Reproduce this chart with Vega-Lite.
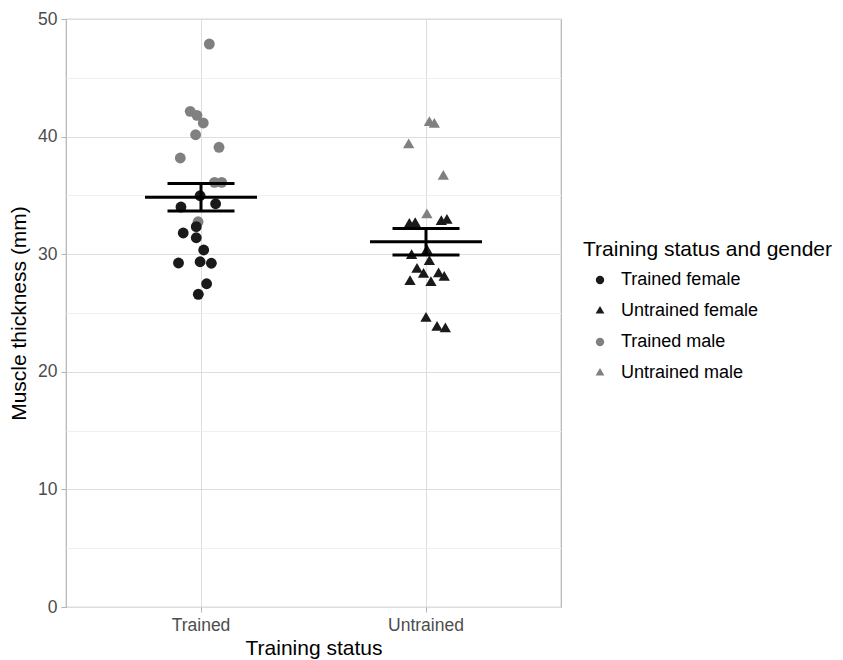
{
  "$schema": "https://vega.github.io/schema/vega-lite/v6.json",
  "width": 495,
  "height": 588,
  "autosize": {"type": "none"},
  "padding": {"left": 66, "top": 19, "right": 282, "bottom": 53},
  "config": {
    "font": "Liberation Sans",
    "view": {"stroke": "#b3b3b3", "strokeWidth": 1.2},
    "axis": {
      "labelFont": "Liberation Sans",
      "titleFont": "Liberation Sans",
      "labelFontSize": 17.5,
      "labelColor": "#4d4d4d",
      "titleFontSize": 21,
      "titleFontWeight": "normal",
      "titleColor": "#000000",
      "tickColor": "#b3b3b3",
      "tickSize": 5,
      "gridColor": "#dedede",
      "gridWidth": 1,
      "domain": false
    },
    "legend": {
      "titleFont": "Liberation Sans",
      "labelFont": "Liberation Sans",
      "titleFontSize": 21,
      "titleFontWeight": "normal",
      "titleColor": "#000000",
      "titleLimit": 400,
      "labelFontSize": 18,
      "labelColor": "#000000",
      "labelLimit": 300
    }
  },
  "data": {
    "values": [
      {"status": "Trained", "group": "Trained male", "jitter": 0.037, "mm": 47.87},
      {"status": "Trained", "group": "Trained male", "jitter": -0.048, "mm": 42.15},
      {"status": "Trained", "group": "Trained male", "jitter": -0.018, "mm": 41.81},
      {"status": "Trained", "group": "Trained male", "jitter": 0.010, "mm": 41.16},
      {"status": "Trained", "group": "Trained male", "jitter": -0.024, "mm": 40.16},
      {"status": "Trained", "group": "Trained male", "jitter": 0.080, "mm": 39.09},
      {"status": "Trained", "group": "Trained male", "jitter": -0.092, "mm": 38.18},
      {"status": "Trained", "group": "Trained male", "jitter": 0.060, "mm": 36.11},
      {"status": "Trained", "group": "Trained male", "jitter": 0.092, "mm": 36.11},
      {"status": "Trained", "group": "Trained male", "jitter": -0.013, "mm": 32.76},
      {"status": "Trained", "group": "Trained female", "jitter": -0.004, "mm": 34.97},
      {"status": "Trained", "group": "Trained female", "jitter": -0.089, "mm": 34.01},
      {"status": "Trained", "group": "Trained female", "jitter": 0.065, "mm": 34.29},
      {"status": "Trained", "group": "Trained female", "jitter": -0.021, "mm": 32.34},
      {"status": "Trained", "group": "Trained female", "jitter": -0.079, "mm": 31.80},
      {"status": "Trained", "group": "Trained female", "jitter": -0.021, "mm": 31.40},
      {"status": "Trained", "group": "Trained female", "jitter": 0.012, "mm": 30.36},
      {"status": "Trained", "group": "Trained female", "jitter": -0.100, "mm": 29.25},
      {"status": "Trained", "group": "Trained female", "jitter": -0.004, "mm": 29.36},
      {"status": "Trained", "group": "Trained female", "jitter": 0.046, "mm": 29.23},
      {"status": "Trained", "group": "Trained female", "jitter": 0.025, "mm": 27.49},
      {"status": "Trained", "group": "Trained female", "jitter": -0.012, "mm": 26.59},
      {"status": "Untrained", "group": "Untrained male", "jitter": 0.015, "mm": 41.18},
      {"status": "Untrained", "group": "Untrained male", "jitter": 0.037, "mm": 41.03},
      {"status": "Untrained", "group": "Untrained male", "jitter": -0.077, "mm": 39.28},
      {"status": "Untrained", "group": "Untrained male", "jitter": 0.077, "mm": 36.61},
      {"status": "Untrained", "group": "Untrained male", "jitter": 0.004, "mm": 33.33},
      {"status": "Untrained", "group": "Untrained female", "jitter": -0.074, "mm": 32.53},
      {"status": "Untrained", "group": "Untrained female", "jitter": -0.048, "mm": 32.59},
      {"status": "Untrained", "group": "Untrained female", "jitter": 0.068, "mm": 32.76},
      {"status": "Untrained", "group": "Untrained female", "jitter": 0.093, "mm": 32.87},
      {"status": "Untrained", "group": "Untrained female", "jitter": 0.004, "mm": 30.29},
      {"status": "Untrained", "group": "Untrained female", "jitter": -0.064, "mm": 29.87},
      {"status": "Untrained", "group": "Untrained female", "jitter": 0.015, "mm": 29.36},
      {"status": "Untrained", "group": "Untrained female", "jitter": -0.040, "mm": 28.70},
      {"status": "Untrained", "group": "Untrained female", "jitter": -0.011, "mm": 28.28},
      {"status": "Untrained", "group": "Untrained female", "jitter": 0.056, "mm": 28.31},
      {"status": "Untrained", "group": "Untrained female", "jitter": 0.081, "mm": 28.02},
      {"status": "Untrained", "group": "Untrained female", "jitter": -0.071, "mm": 27.66},
      {"status": "Untrained", "group": "Untrained female", "jitter": 0.022, "mm": 27.57},
      {"status": "Untrained", "group": "Untrained female", "jitter": 0.000, "mm": 24.54},
      {"status": "Untrained", "group": "Untrained female", "jitter": 0.049, "mm": 23.77},
      {"status": "Untrained", "group": "Untrained female", "jitter": 0.086, "mm": 23.63}
    ]
  },
  "resolve": {"axis": {"y": "independent"}},
  "layer": [
    {
      "mark": {"type": "point", "filled": true, "opacity": 1, "size": 118},
      "encoding": {
        "x": {
          "field": "status",
          "type": "nominal",
          "scale": {"paddingInner": 0, "paddingOuter": 0.1},
          "axis": {"title": "Training status", "labelAngle": 0, "grid": true, "labelPadding": 4, "titlePadding": 4}
        },
        "xOffset": {"field": "jitter", "type": "quantitative", "scale": {"domain": [-0.5, 0.5]}},
        "y": {
          "field": "mm",
          "type": "quantitative",
          "scale": {"domain": [0, 50], "nice": false, "zero": false},
          "axis": {"title": "Muscle thickness (mm)", "values": [0, 10, 20, 30, 40, 50], "grid": true, "labelPadding": 4, "titlePadding": 8}
        },
        "color": {
          "field": "group",
          "type": "nominal",
          "scale": {
            "domain": ["Trained female", "Untrained female", "Trained male", "Untrained male"],
            "range": ["#1a1a1a", "#1a1a1a", "#808080", "#808080"]
          },
          "legend": {
            "title": "Training status and gender",
            "orient": "none",
            "legendX": 517,
            "legendY": 220,
            "symbolSize": 70,
            "symbolOffset": 8,
            "labelOffset": 12,
            "rowPadding": 13,
            "titlePadding": 11
          }
        },
        "shape": {
          "field": "group",
          "type": "nominal",
          "scale": {
            "domain": ["Trained female", "Untrained female", "Trained male", "Untrained male"],
            "range": ["circle", "M0,-1.2L1.04,0.6L-1.04,0.6Z", "circle", "M0,-1.2L1.04,0.6L-1.04,0.6Z"]
          },
          "legend": {
            "title": "Training status and gender",
            "orient": "none",
            "legendX": 517,
            "legendY": 220,
            "symbolSize": 70,
            "symbolOffset": 8,
            "labelOffset": 12,
            "rowPadding": 13,
            "titlePadding": 11
          }
        }
      }
    },
    {
      "transform": [
        {"aggregate": [{"op": "mean", "field": "mm", "as": "mean"}, {"op": "stderr", "field": "mm", "as": "se"}], "groupby": ["status"]},
        {"calculate": "datum.mean - datum.se", "as": "lo"},
        {"calculate": "datum.mean + datum.se", "as": "hi"}
      ],
      "layer": [
        {
          "mark": {"type": "rule", "color": "#000000", "strokeWidth": 3},
          "encoding": {
            "x": {"field": "status", "type": "nominal"},
            "y": {"field": "lo", "type": "quantitative", "axis": {"orient": "right", "values": [5, 15, 25, 35, 45], "grid": true, "gridColor": "#efefef", "labels": false, "ticks": false, "domain": false, "title": null}},
            "y2": {"field": "hi"}
          }
        },
        {
          "mark": {"type": "tick", "color": "#000000", "opacity": 1, "orient": "horizontal", "thickness": 3, "size": 112},
          "encoding": {
            "x": {"field": "status", "type": "nominal"},
            "y": {"field": "mean", "type": "quantitative", "axis": {"orient": "right", "values": [5, 15, 25, 35, 45], "grid": true, "gridColor": "#efefef", "labels": false, "ticks": false, "domain": false, "title": null}}
          }
        },
        {
          "mark": {"type": "tick", "color": "#000000", "opacity": 1, "orient": "horizontal", "thickness": 3, "size": 67},
          "encoding": {
            "x": {"field": "status", "type": "nominal"},
            "y": {"field": "lo", "type": "quantitative", "axis": {"orient": "right", "values": [5, 15, 25, 35, 45], "grid": true, "gridColor": "#efefef", "labels": false, "ticks": false, "domain": false, "title": null}}
          }
        },
        {
          "mark": {"type": "tick", "color": "#000000", "opacity": 1, "orient": "horizontal", "thickness": 3, "size": 67},
          "encoding": {
            "x": {"field": "status", "type": "nominal"},
            "y": {"field": "hi", "type": "quantitative", "axis": {"orient": "right", "values": [5, 15, 25, 35, 45], "grid": true, "gridColor": "#efefef", "labels": false, "ticks": false, "domain": false, "title": null}}
          }
        }
      ]
    }
  ]
}
